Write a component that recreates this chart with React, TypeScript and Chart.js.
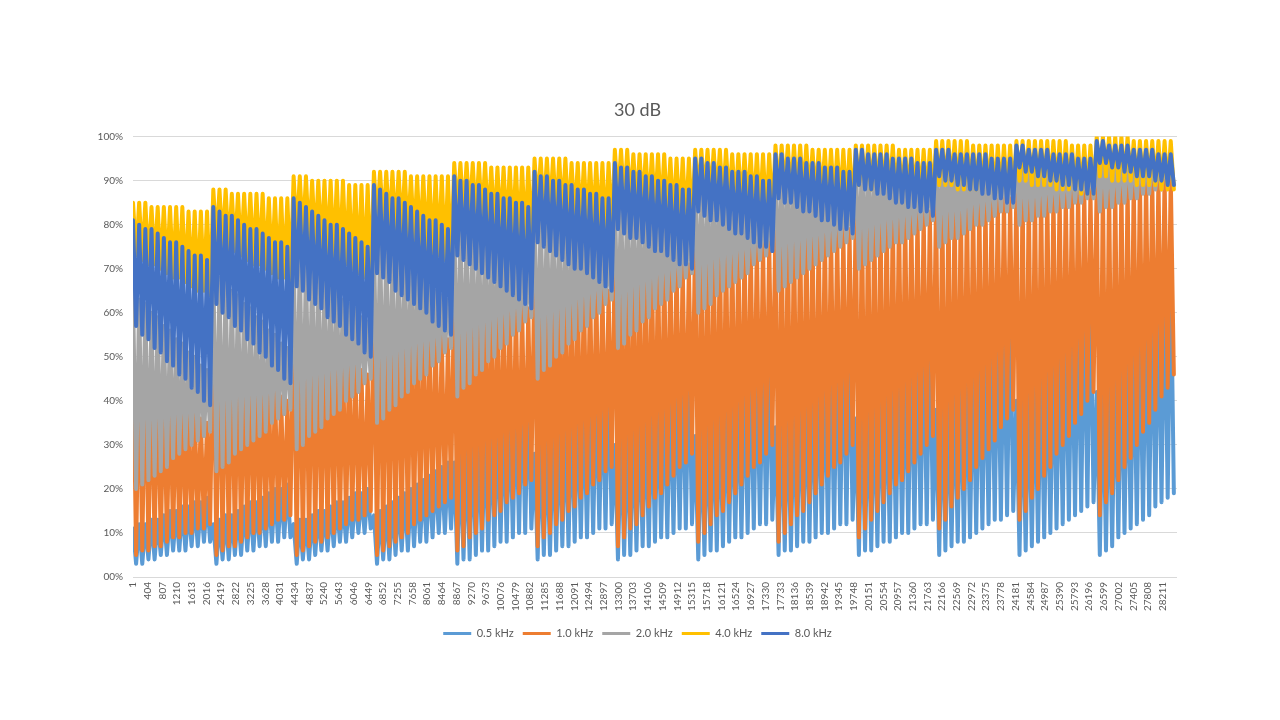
import React, { useEffect, useRef } from "react";
import { Chart, registerables } from "chart.js";

Chart.register(...registerables);

const TITLE = "30 dB";
const SERIES_NAMES = ["0.5 kHz", "1.0 kHz", "2.0 kHz", "4.0 kHz", "8.0 kHz"];
const SERIES_COLORS = ["#5B9BD5", "#ED7D31", "#A5A5A5", "#FFC000", "#4472C4"];
// Excel draws later series on top: lower "order" is drawn last in Chart.js
const SERIES_ORDER = [5, 4, 3, 2, 1];

const X_TICKS = [
  1, 404, 807, 1210, 1613, 2016, 2419, 2822, 3225, 3628, 4031, 4434, 4837, 5240, 5643, 6046,
  6449, 6852, 7255, 7658, 8061, 8464, 8867, 9270, 9673, 10076, 10479, 10882, 11285, 11688,
  12091, 12494, 12897, 13300, 13703, 14106, 14509, 14912, 15315, 15718, 16121, 16524, 16927,
  17330, 17733, 18136, 18539, 18942, 19345, 19748, 20151, 20554, 20957, 21360, 21763, 22166,
  22569, 22972, 23375, 23778, 24181, 24584, 24987, 25390, 25793, 26196, 26599, 27002, 27405,
  27808, 28211,
];
const Y_TICK_LABELS = ["00%", "10%", "20%", "30%", "40%", "50%", "60%", "70%", "80%", "90%", "100%"];

const X_MIN = 1;
const X_MAX = 28600;
const SAMPLES_PER_BLOCK = 2200;
const SAMPLES_PER_TOOTH = 169;

// Values in %, one row per block (13 blocks), one value per tooth (13 teeth).
// 0.5 kHz
const PEAK_05 = [
  [11, 12, 12, 13, 13, 14, 15, 15, 16, 16, 17, 17, 18],
  [12, 13, 14, 14, 15, 16, 17, 17, 18, 19, 20, 20, 21],
  [12, 13, 13, 14, 15, 15, 16, 17, 17, 18, 19, 19, 20],
  [14, 15, 16, 17, 18, 19, 20, 21, 22, 23, 24, 25, 26],
  [26, 28, 29, 31, 32, 34, 35, 37, 38, 40, 41, 43, 44],
  [28, 30, 31, 33, 35, 36, 38, 40, 41, 43, 45, 46, 48],
  [30, 32, 33, 35, 37, 38, 40, 42, 43, 45, 47, 48, 50],
  [32, 34, 36, 38, 39, 41, 43, 45, 47, 49, 50, 52, 54],
  [34, 36, 38, 40, 42, 44, 46, 48, 50, 52, 54, 56, 58],
  [36, 38, 40, 42, 44, 46, 48, 50, 52, 54, 56, 58, 60],
  [38, 40, 42, 45, 47, 49, 51, 53, 55, 58, 60, 62, 64],
  [40, 42, 45, 47, 49, 52, 54, 56, 59, 61, 63, 66, 68],
  [42, 45, 47, 50, 52, 55, 57, 60, 62, 65, 67, 70, 72],
];
const TROUGH_05 = [
  [3, 3, 4, 4, 5, 5, 6, 6, 6, 7, 7, 8, 8],
  [3, 4, 4, 5, 5, 6, 6, 7, 7, 8, 8, 9, 9],
  [3, 4, 4, 5, 6, 6, 7, 8, 8, 9, 10, 10, 11],
  [3, 4, 4, 5, 6, 6, 7, 8, 8, 9, 10, 10, 11],
  [3, 4, 4, 5, 6, 6, 7, 8, 8, 9, 10, 10, 11],
  [4, 5, 5, 6, 7, 7, 8, 9, 9, 10, 11, 11, 12],
  [4, 5, 5, 6, 7, 7, 8, 9, 9, 10, 11, 11, 12],
  [4, 5, 6, 6, 7, 8, 9, 9, 10, 11, 12, 12, 13],
  [5, 6, 6, 7, 8, 8, 9, 10, 10, 11, 12, 12, 13],
  [5, 6, 6, 7, 8, 8, 9, 10, 10, 11, 12, 12, 13],
  [5, 6, 7, 8, 8, 9, 10, 11, 12, 13, 13, 14, 15],
  [5, 6, 7, 8, 9, 10, 11, 12, 13, 14, 15, 16, 17],
  [5, 6, 7, 9, 10, 11, 12, 13, 14, 16, 17, 18, 19],
];
// 1.0 kHz
const PEAK_10 = [
  [53, 51, 50, 48, 47, 45, 44, 42, 41, 39, 38, 36, 35],
  [58, 56, 55, 53, 52, 50, 49, 47, 46, 44, 43, 41, 40],
  [62, 61, 59, 58, 57, 55, 54, 53, 51, 50, 49, 47, 46],
  [65, 64, 63, 62, 61, 60, 59, 59, 58, 57, 56, 55, 54],
  [69, 68, 68, 67, 66, 66, 65, 64, 64, 63, 62, 62, 61],
  [72, 71, 71, 70, 70, 69, 68, 68, 67, 67, 66, 66, 65],
  [75, 75, 74, 74, 74, 73, 73, 73, 72, 72, 72, 71, 71],
  [79, 79, 78, 78, 78, 78, 77, 77, 77, 77, 76, 76, 76],
  [82, 82, 81, 81, 81, 81, 80, 80, 80, 80, 79, 79, 79],
  [85, 85, 85, 84, 84, 84, 84, 84, 84, 83, 83, 83, 83],
  [87, 87, 87, 87, 87, 87, 86, 86, 86, 86, 86, 86, 86],
  [89, 89, 89, 89, 89, 89, 88, 88, 88, 88, 88, 88, 88],
  [90, 90, 90, 90, 90, 90, 91, 91, 91, 91, 91, 91, 91],
];
const TROUGH_10 = [
  [5, 6, 6, 7, 7, 8, 9, 9, 10, 10, 11, 11, 12],
  [5, 6, 7, 7, 8, 9, 10, 10, 11, 12, 13, 13, 14],
  [5, 6, 7, 8, 8, 9, 10, 11, 12, 13, 13, 14, 15],
  [5, 6, 7, 8, 9, 10, 12, 13, 14, 15, 16, 17, 18],
  [6, 7, 9, 10, 11, 13, 14, 15, 17, 18, 19, 21, 22],
  [7, 9, 10, 12, 13, 15, 16, 18, 19, 21, 22, 24, 25],
  [7, 9, 11, 12, 14, 16, 18, 19, 21, 23, 25, 26, 28],
  [8, 10, 12, 14, 15, 17, 19, 21, 23, 25, 26, 28, 30],
  [8, 10, 12, 14, 15, 17, 19, 21, 23, 25, 26, 28, 30],
  [9, 11, 13, 15, 17, 19, 21, 22, 24, 26, 28, 30, 32],
  [11, 13, 16, 18, 20, 22, 25, 27, 29, 31, 34, 36, 38],
  [13, 15, 18, 20, 23, 25, 28, 30, 32, 35, 37, 40, 42],
  [14, 17, 19, 22, 25, 27, 30, 33, 35, 38, 41, 43, 46],
];
// 2.0 kHz
const PEAK_20 = [
  [65, 63, 62, 60, 59, 57, 56, 54, 53, 51, 50, 48, 47],
  [70, 68, 67, 65, 64, 62, 61, 59, 58, 56, 55, 53, 52],
  [74, 73, 71, 70, 69, 67, 66, 65, 63, 62, 61, 59, 58],
  [77, 76, 75, 73, 72, 71, 70, 69, 68, 66, 65, 64, 63],
  [81, 80, 79, 78, 77, 76, 75, 74, 73, 72, 71, 70, 69],
  [84, 83, 82, 81, 80, 79, 78, 78, 77, 76, 75, 74, 73],
  [87, 86, 85, 85, 84, 83, 82, 82, 81, 80, 79, 79, 78],
  [91, 90, 89, 89, 88, 87, 86, 86, 85, 84, 83, 83, 82],
  [94, 93, 93, 92, 91, 91, 90, 89, 89, 88, 87, 87, 86],
  [95, 95, 94, 94, 93, 93, 92, 92, 92, 91, 91, 90, 90],
  [95, 95, 95, 94, 94, 94, 94, 94, 94, 93, 93, 93, 93],
  [96, 96, 95, 95, 95, 95, 94, 94, 94, 94, 93, 93, 93],
  [97, 97, 96, 96, 96, 96, 95, 95, 95, 95, 94, 94, 94],
];
const TROUGH_20 = [
  [20, 21, 22, 23, 24, 25, 27, 28, 29, 30, 31, 32, 33],
  [24, 25, 26, 28, 29, 30, 31, 32, 33, 35, 36, 37, 38],
  [29, 30, 32, 33, 34, 36, 37, 38, 40, 41, 42, 44, 45],
  [35, 36, 38, 39, 41, 42, 44, 45, 46, 48, 49, 51, 52],
  [41, 43, 44, 46, 47, 49, 50, 52, 53, 55, 56, 58, 59],
  [45, 47, 48, 50, 51, 53, 54, 56, 57, 59, 60, 62, 63],
  [52, 53, 55, 56, 58, 59, 61, 62, 63, 65, 66, 68, 69],
  [60, 61, 62, 64, 65, 66, 67, 68, 69, 71, 72, 73, 74],
  [65, 66, 67, 68, 69, 70, 71, 72, 73, 74, 75, 76, 77],
  [70, 71, 72, 73, 74, 75, 76, 76, 77, 78, 79, 80, 81],
  [75, 76, 77, 77, 78, 79, 80, 80, 81, 82, 83, 83, 84],
  [80, 81, 81, 82, 82, 83, 83, 84, 84, 85, 85, 86, 86],
  [83, 84, 84, 85, 85, 86, 86, 87, 87, 88, 88, 89, 89],
];
// 4.0 kHz
const PEAK_40 = [
  [85, 85, 85, 84, 84, 84, 84, 84, 84, 83, 83, 83, 83],
  [88, 88, 88, 87, 87, 87, 87, 87, 87, 86, 86, 86, 86],
  [91, 91, 91, 90, 90, 90, 90, 90, 90, 89, 89, 89, 89],
  [92, 92, 92, 92, 92, 92, 91, 91, 91, 91, 91, 91, 91],
  [94, 94, 94, 94, 94, 94, 93, 93, 93, 93, 93, 93, 93],
  [95, 95, 95, 95, 95, 95, 94, 94, 94, 94, 94, 94, 94],
  [97, 97, 97, 96, 96, 96, 96, 96, 96, 95, 95, 95, 95],
  [97, 97, 97, 97, 97, 97, 96, 96, 96, 96, 96, 96, 96],
  [98, 98, 98, 98, 98, 98, 97, 97, 97, 97, 97, 97, 97],
  [98, 98, 98, 98, 98, 98, 98, 97, 97, 97, 97, 97, 97],
  [99, 99, 99, 99, 99, 99, 98, 98, 98, 98, 98, 98, 98],
  [99, 99, 99, 99, 99, 99, 99, 99, 99, 98, 98, 98, 98],
  [100, 100, 100, 100, 100, 100, 99, 99, 99, 99, 99, 99, 99],
];
const TROUGH_40 = [
  [73, 72, 71, 71, 70, 69, 68, 68, 67, 66, 65, 65, 64],
  [76, 75, 74, 74, 73, 72, 71, 71, 70, 69, 68, 68, 67],
  [78, 77, 76, 75, 74, 73, 72, 72, 71, 70, 69, 68, 67],
  [81, 80, 79, 78, 78, 77, 76, 75, 74, 73, 73, 72, 71],
  [83, 82, 82, 81, 81, 80, 79, 79, 78, 78, 77, 77, 76],
  [84, 83, 83, 82, 82, 81, 81, 80, 80, 79, 79, 78, 78],
  [86, 85, 85, 84, 84, 83, 83, 82, 82, 81, 81, 80, 80],
  [87, 87, 86, 86, 85, 85, 84, 84, 84, 83, 83, 82, 82],
  [88, 88, 87, 87, 87, 86, 86, 86, 85, 85, 85, 84, 84],
  [89, 89, 88, 88, 88, 88, 87, 87, 87, 87, 86, 86, 86],
  [89, 89, 89, 88, 88, 88, 88, 88, 88, 87, 87, 87, 87],
  [90, 90, 89, 89, 89, 89, 88, 88, 88, 88, 87, 87, 87],
  [91, 91, 90, 90, 90, 90, 89, 89, 89, 89, 88, 88, 88],
];
// 8.0 kHz
const PEAK_80 = [
  [81, 80, 79, 79, 78, 77, 76, 76, 75, 74, 73, 73, 72],
  [84, 83, 82, 82, 81, 80, 79, 79, 78, 77, 76, 76, 75],
  [86, 85, 84, 83, 82, 81, 80, 80, 79, 78, 77, 76, 75],
  [89, 88, 87, 86, 86, 85, 84, 83, 82, 81, 81, 80, 79],
  [91, 90, 90, 89, 89, 88, 87, 87, 86, 86, 85, 85, 84],
  [92, 91, 91, 90, 90, 89, 89, 88, 88, 87, 87, 86, 86],
  [94, 93, 93, 92, 92, 91, 91, 90, 90, 89, 89, 88, 88],
  [95, 95, 94, 94, 93, 93, 92, 92, 92, 91, 91, 90, 90],
  [96, 96, 95, 95, 95, 94, 94, 94, 93, 93, 93, 92, 92],
  [97, 97, 96, 96, 96, 96, 95, 95, 95, 95, 94, 94, 94],
  [97, 97, 97, 96, 96, 96, 96, 96, 96, 95, 95, 95, 95],
  [98, 98, 97, 97, 97, 97, 96, 96, 96, 96, 95, 95, 95],
  [99, 99, 98, 98, 98, 98, 97, 97, 97, 97, 96, 96, 96],
];
const TROUGH_80 = [
  [57, 55, 54, 52, 51, 49, 48, 46, 45, 43, 42, 40, 39],
  [62, 60, 59, 57, 56, 54, 53, 51, 50, 48, 47, 45, 44],
  [66, 65, 63, 62, 61, 59, 58, 57, 55, 54, 53, 51, 50],
  [69, 68, 67, 65, 64, 63, 62, 61, 60, 58, 57, 56, 55],
  [73, 72, 71, 70, 69, 68, 67, 66, 65, 64, 63, 62, 61],
  [76, 75, 74, 73, 72, 71, 70, 70, 69, 68, 67, 66, 65],
  [79, 78, 77, 77, 76, 75, 74, 74, 73, 72, 71, 71, 70],
  [83, 82, 81, 81, 80, 79, 78, 78, 77, 76, 75, 75, 74],
  [86, 85, 85, 84, 83, 83, 82, 81, 81, 80, 79, 79, 78],
  [89, 88, 88, 87, 87, 86, 85, 85, 84, 84, 83, 83, 82],
  [91, 90, 90, 89, 89, 88, 88, 87, 87, 86, 86, 85, 85],
  [93, 92, 92, 91, 91, 90, 90, 89, 89, 88, 88, 87, 87],
  [94, 94, 93, 93, 92, 92, 91, 91, 91, 90, 90, 89, 89],
];

const SERIES_PEAKS = [PEAK_05, PEAK_10, PEAK_20, PEAK_40, PEAK_80];
const SERIES_TROUGHS = [TROUGH_05, TROUGH_10, TROUGH_20, TROUGH_40, TROUGH_80];

const TEXT_COLOR = "#595959";
const GRID_COLOR = "#D9D9D9";
const FONT_FAMILY = "Lato, 'Open Sans', 'DejaVu Sans', sans-serif";

function buildPoints(peaks: number[][], troughs: number[][]) {
  const pts: { x: number; y: number }[] = [];
  peaks.forEach((row, b) => {
    row.forEach((p, t) => {
      const x0 = X_MIN + b * SAMPLES_PER_BLOCK + t * SAMPLES_PER_TOOTH;
      pts.push({ x: x0, y: p });
      pts.push({ x: x0 + Math.round(SAMPLES_PER_TOOTH / 2), y: troughs[b][t] });
    });
  });
  return pts;
}

export default function App() {
  const canvasRef = useRef<HTMLCanvasElement | null>(null);

  useEffect(() => {
    if (!canvasRef.current) return;
    const datasets = SERIES_NAMES.map((name, i) => ({
      label: name,
      data: buildPoints(SERIES_PEAKS[i], SERIES_TROUGHS[i]),
      borderColor: SERIES_COLORS[i],
      backgroundColor: SERIES_COLORS[i],
      borderWidth: 4,
      borderJoinStyle: "round" as const,
      borderCapStyle: "round" as const,
      pointRadius: 0,
      pointHoverRadius: 0,
      tension: 0,
      fill: false,
      order: SERIES_ORDER[i],
    }));

    const chart = new Chart(canvasRef.current, {
      type: "line",
      data: { datasets },
      options: {
        animation: false,
        responsive: true,
        maintainAspectRatio: false,
        events: [],
        layout: { padding: { top: 0, left: 98, right: 103, bottom: 71 } },
        plugins: {
          title: {
            display: true,
            text: TITLE,
            color: TEXT_COLOR,
            font: { family: FONT_FAMILY, size: 18, weight: "normal" },
            padding: { top: 99, bottom: 16 },
          },
          legend: {
            display: true,
            position: "bottom",
            labels: {
              color: TEXT_COLOR,
              font: { family: FONT_FAMILY, size: 11 },
              usePointStyle: true,
              pointStyle: "line",
              pointStyleWidth: 28,
              padding: 9,
              sort: (a: any, b: any) => a.datasetIndex - b.datasetIndex,
              generateLabels: (chart: any) =>
                SERIES_NAMES.map((name, i) => ({
                  text: name,
                  fillStyle: SERIES_COLORS[i],
                  strokeStyle: SERIES_COLORS[i],
                  lineWidth: 3,
                  pointStyle: "line",
                  fontColor: TEXT_COLOR,
                  hidden: !chart.isDatasetVisible(i),
                  datasetIndex: i,
                })),
            },
          },
          tooltip: { enabled: false },
        },
        scales: {
          x: {
            type: "linear",
            min: X_MIN,
            max: X_MAX,
            afterBuildTicks: (axis: any) => {
              axis.ticks = X_TICKS.map((v) => ({ value: v }));
            },
            afterFit: (scale: any) => {
              scale.height = 42;
            },
            grid: { display: false, drawTicks: false },
            border: { display: false },
            ticks: {
              autoSkip: false,
              minRotation: 90,
              maxRotation: 90,
              padding: 5,
              color: TEXT_COLOR,
              font: { family: FONT_FAMILY, size: 10 },
              callback: (v: any) => String(v),
            },
          },
          y: {
            type: "linear",
            min: 0,
            max: 100,
            afterFit: (scale: any) => {
              scale.width = 35;
            },
            grid: { color: GRID_COLOR, lineWidth: 1, drawTicks: false },
            border: { display: false },
            ticks: {
              stepSize: 10,
              padding: 10,
              color: TEXT_COLOR,
              font: { family: FONT_FAMILY, size: 10 },
              callback: (v: any) => Y_TICK_LABELS[Math.round(Number(v) / 10)],
            },
          },
        },
      },
    });
    return () => chart.destroy();
  }, []);

  return (
    <div
      style={{
        position: "fixed",
        left: 0,
        top: 0,
        width: 1280,
        height: 720,
        background: "#ffffff",
      }}
    >
      <canvas ref={canvasRef} />
    </div>
  );
}
